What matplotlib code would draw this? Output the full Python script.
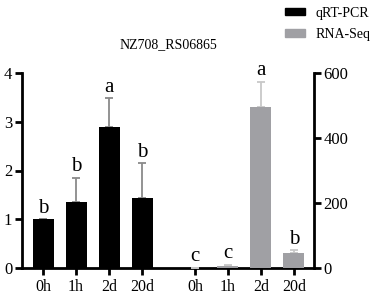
import numpy as np
import matplotlib
matplotlib.use("Agg")
import matplotlib.pyplot as plt
from matplotlib.patches import Patch

plt.rcParams["font.family"] = ["Liberation Serif", "DejaVu Serif"]

times = ["0h", "1h", "2d", "20d"]
qpcr = [1.0, 1.35, 2.9, 1.44]
qpcr_err = [0.0, 0.5, 0.58, 0.71]
qpcr_sig = ["b", "b", "a", "b"]
rnaseq = [1.0, 5.0, 495, 46]
rnaseq_err = [0.5, 5.0, 77, 9]
rnaseq_sig = ["c", "c", "a", "b"]

BLACK, GRAY = "#000000", "#a0a0a4"

W, H = 373, 294
fig = plt.figure(figsize=(W / 100, H / 100), dpi=100)
ax = fig.add_axes([22 / W, (H - 268) / H, (314 - 22) / W, 195 / H])
ax2 = ax.twinx()

x_left = np.arange(4)
x_right = np.arange(4) + 4.6
bw = 0.64

ax.bar(x_left, qpcr, bw, color=BLACK, zorder=3)
ax.errorbar(x_left, qpcr, yerr=[np.zeros(4), qpcr_err], fmt="none",
            ecolor="#8a8a8a", elinewidth=1.3, capsize=3, capthick=1.3, zorder=2)
for xi, v, e, s in zip(x_left, qpcr, qpcr_err, qpcr_sig):
    ax.text(xi, v + e + 0.03, s, ha="center", va="bottom", fontsize=15)

ax2.bar(x_right, rnaseq, bw, color=GRAY, zorder=3)
ax2.errorbar(x_right, rnaseq, yerr=[np.zeros(4), rnaseq_err], fmt="none",
             ecolor="#c8c8c8", elinewidth=1.3, capsize=3, capthick=1.3, zorder=2)
for xi, v, e, s in zip(x_right, rnaseq, rnaseq_err, rnaseq_sig):
    ax2.text(xi, v + e + 5, s, ha="center", va="bottom", fontsize=15)

ax.set_xlim(-0.64, 8.21)
ax.set_ylim(0, 4)
ax2.set_ylim(0, 600)
ax.set_yticks([0, 1, 2, 3, 4])
ax2.set_yticks([0, 200, 400, 600])
ax.set_xticks(np.concatenate([x_left, x_right]))
ax.set_xticklabels(times + times)

for a in (ax, ax2):
    a.spines["top"].set_visible(False)
    for sp in a.spines.values():
        sp.set_linewidth(2)
    a.tick_params(width=2, length=5, labelsize=12, pad=2)
ax.spines["right"].set_visible(False)
ax2.spines["left"].set_visible(False)
ax2.spines["bottom"].set_visible(False)
ax.tick_params(axis="x", length=5, pad=3, labelsize=11.5)

fig.text(168 / W, 1 - 45 / H, "NZ708_RS06865", ha="center", va="center", fontsize=10)

handles = [Patch(color=BLACK, label="qRT-PCR"), Patch(color=GRAY, label="RNA-Seq")]
fig.legend(handles=handles, loc="upper right", bbox_to_anchor=(1.028, 1.02),
           frameon=False, fontsize=10, handlelength=1.4, handleheight=0.45,
           labelspacing=0.6, handletextpad=0.8)

fig.savefig("out.png", dpi=100)
